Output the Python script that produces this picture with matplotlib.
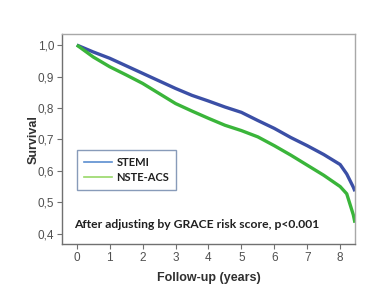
import numpy as np
import matplotlib.pyplot as plt

# survival curves
years = [0, 0.5, 1, 1.5, 2, 2.5, 3, 3.5, 4, 4.5, 5, 5.5, 6, 6.5, 7, 7.5, 8, 8.2, 8.4, 8.45]
stemi = [1.0, 0.978, 0.958, 0.934, 0.910, 0.886, 0.862, 0.840, 0.822, 0.803, 0.786, 0.760,
         0.735, 0.706, 0.680, 0.652, 0.620, 0.590, 0.548, 0.535]
nste = [1.0, 0.962, 0.931, 0.905, 0.878, 0.846, 0.814, 0.790, 0.767, 0.745, 0.728, 0.708,
        0.680, 0.650, 0.618, 0.586, 0.550, 0.527, 0.460, 0.435]

xticks = [0, 1, 2, 3, 4, 5, 6, 7, 8]
yticks = [0.4, 0.5, 0.6, 0.7, 0.8, 0.9, 1.0]
ylabels = ["0,4", "0,5", "0,6", "0,7", "0,8", "0,9", "1,0"]

fig = plt.figure(figsize=(3.85, 3.04), dpi=100)
ax = fig.add_axes([0.161, 0.197, 0.761, 0.691])

ax.plot(years, stemi, color="#3b4fa6", lw=2.4, solid_capstyle="butt")
ax.plot(years, nste, color="#3ab53a", lw=2.4, solid_capstyle="butt")

ax.set_xlim(-0.45, 8.45)
ax.set_ylim(0.367, 1.035)
ax.set_xticks(xticks)
ax.set_yticks(yticks)
ax.set_yticklabels(ylabels)
ax.tick_params(direction="out", length=3.5, width=0.8, color="#707070",
               labelcolor="#505050", labelsize=8.5, pad=2)
for lab in ax.get_xticklabels() + ax.get_yticklabels():
    lab.set_family("Liberation Sans")

for s in ["left", "bottom"]:
    ax.spines[s].set_color("#707070")
    ax.spines[s].set_linewidth(1.0)
for s in ["top", "right"]:
    ax.spines[s].set_color("#a8a8a8")
    ax.spines[s].set_linewidth(1.0)

ax.set_ylabel("Survival", family="Liberation Sans", fontweight="bold", fontsize=9,
              color="#303030", labelpad=-1)
ax.set_xlabel("Follow-up (years)", family="Liberation Sans", fontweight="bold", fontsize=9,
              color="#303030", labelpad=6)

# legend drawn with lighter line colours like the original
h1, = ax.plot([], [], color="#5b8ed0", lw=1.2)
h2, = ax.plot([], [], color="#98d868", lw=1.2)
leg = ax.legend([h1, h2], ["STEMI", "NSTE-ACS"], loc="upper left",
                bbox_to_anchor=(0.051, 0.448), frameon=True, fancybox=False,
                prop={"family": "Lato", "weight": "bold", "size": 8},
                handlelength=2.5, handletextpad=0.4, borderpad=0.65, labelspacing=0.35,
                borderaxespad=0)
leg.get_frame().set_edgecolor("#6a82a8")
leg.get_frame().set_linewidth(1.0)
for t in leg.get_texts():
    t.set_color("#202020")

ax.text(0.04, 0.094, "After adjusting by GRACE risk score, p<0.001", transform=ax.transAxes,
        family="Lato", fontweight="bold", fontsize=8.7, color="#202020", va="center")

fig.savefig("out.png", dpi=100)
